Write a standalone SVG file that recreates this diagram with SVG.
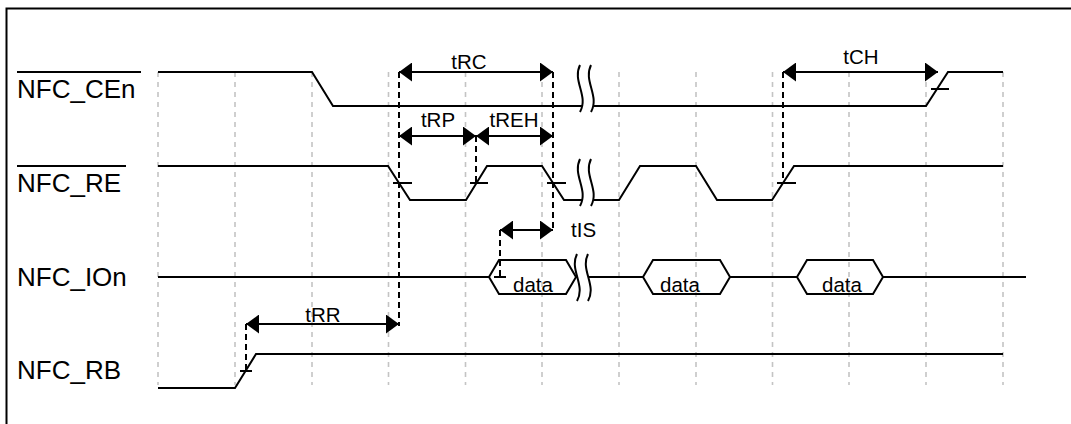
<svg xmlns="http://www.w3.org/2000/svg" width="1071" height="424" viewBox="0 0 1071 424">
<style>
.sig{fill:none;stroke:#000;stroke-width:2;stroke-linejoin:miter}
.grid{stroke:#c4c4c4;stroke-width:1.6;stroke-dasharray:5,5}
.ref{stroke:#000;stroke-width:2;stroke-dasharray:6,4;fill:none}
.arr{stroke:#000;stroke-width:2;fill:none;marker-start:url(#ah);marker-end:url(#ah)}
.tick{stroke:#000;stroke-width:2}
.lbl{font-family:"Liberation Sans",Arial,sans-serif;font-size:26px;fill:#000}
.ann{font-family:"Liberation Sans",Arial,sans-serif;font-size:20.5px;fill:#000}
.brkline{fill:none;stroke:#000;stroke-width:2}
</style>
<defs>
<marker id="ah" viewBox="0 0 13 19" refX="13" refY="9.5" markerWidth="13" markerHeight="19" markerUnits="userSpaceOnUse" orient="auto-start-reverse">
<path d="M0,0 L13,9.5 L0,19 z" fill="#000"/>
</marker>
<g id="brk">
<path d="M580,0 C572,16 589,31 580,47 L591,47 C600,31 583,16 591,0 Z" fill="#fff" stroke="none"/>
<path class="brkline" d="M580,0 C572,16 589,31 580,47"/>
<path class="brkline" d="M591,0 C583,16 600,31 591,47"/>
</g>
</defs>
<rect x="0" y="0" width="1071" height="424" fill="#fff"/>
<rect id="frame" x="6.5" y="8.5" width="1100" height="440" fill="none" stroke="#000" stroke-width="2"/>

<g id="grid">
<line class="grid" x1="158" y1="72" x2="158" y2="385"/>
<line class="grid" x1="235" y1="72" x2="235" y2="385"/>
<line class="grid" x1="312" y1="72" x2="312" y2="385"/>
<line class="grid" x1="388.5" y1="72" x2="388.5" y2="385"/>
<line class="grid" x1="465.5" y1="72" x2="465.5" y2="385"/>
<line class="grid" x1="542" y1="72" x2="542" y2="385"/>
<line class="grid" x1="619" y1="72" x2="619" y2="385"/>
<line class="grid" x1="696" y1="72" x2="696" y2="385"/>
<line class="grid" x1="772.5" y1="72" x2="772.5" y2="385"/>
<line class="grid" x1="849" y1="72" x2="849" y2="385"/>
<line class="grid" x1="926" y1="72" x2="926" y2="385"/>
<line class="grid" x1="1003" y1="72" x2="1003" y2="385"/>
</g>

<g id="NFC_CEn">
<text class="lbl" x="17" y="98">NFC_CEn</text>
<line x1="17" y1="72" x2="141" y2="72" stroke="#000" stroke-width="2"/>
<polyline class="sig" points="158,72 312,72 333,106 926,106 948,72 1003,72"/>
<line class="tick" x1="931" y1="89" x2="949" y2="89"/>
<use href="#brk" x="0" y="65"/>
</g>

<g id="NFC_RE">
<text class="lbl" x="17" y="192">NFC_RE</text>
<line x1="17" y1="166" x2="126" y2="166" stroke="#000" stroke-width="2"/>
<polyline class="sig" points="158,166 388,166 410,200 466,200 487,166 542,166 564,200 619,200 640,166 696,166 717,200 772,200 794,166 1003,166"/>
<line class="tick" x1="393" y1="183" x2="412" y2="183"/>
<line class="tick" x1="470" y1="183" x2="488" y2="183"/>
<line class="tick" x1="547" y1="183" x2="566" y2="183"/>
<line class="tick" x1="777" y1="183" x2="796" y2="183"/>
<use href="#brk" x="0" y="159"/>
</g>

<g id="NFC_IOn">
<text class="lbl" x="17" y="286">NFC_IOn</text>
<line class="sig" x1="158" y1="277" x2="489" y2="277"/>
<polygon class="sig" points="489,277 499,260 566,260 576,277 566,294 499,294"/>
<line class="sig" x1="576" y1="277" x2="643" y2="277"/>
<polygon class="sig" points="643,277 653,260 720,260 730,277 720,294 653,294"/>
<line class="sig" x1="730" y1="277" x2="797" y2="277"/>
<polygon class="sig" points="797,277 807,260 873,260 883,277 873,294 807,294"/>
<line class="sig" x1="883" y1="277" x2="1026" y2="277"/>
<line class="tick" x1="494" y1="277" x2="506" y2="277"/>
<text class="ann" x="533" y="292" text-anchor="middle">data</text>
<text class="ann" x="680" y="292" text-anchor="middle">data</text>
<text class="ann" x="842" y="292" text-anchor="middle">data</text>
<use href="#brk" x="-3" y="254"/>
</g>

<g id="NFC_RB">
<text class="lbl" x="17" y="379">NFC_RB</text>
<polyline class="sig" points="158,388 235,388 256,354 1003,354"/>
<line class="tick" x1="240" y1="371" x2="252" y2="371"/>
</g>

<g id="connectors">
<line class="ref" x1="399" y1="72" x2="399" y2="326"/>
<line class="ref" x1="553" y1="72" x2="553" y2="230"/>
<line class="ref" x1="476" y1="136" x2="476" y2="183"/>
<line class="ref" x1="500" y1="230" x2="500" y2="277"/>
<line class="ref" x1="783" y1="72" x2="783" y2="183"/>
<line class="ref" x1="246" y1="324" x2="246" y2="371"/>
<line class="arr" x1="399" y1="72" x2="553" y2="72"/>
<line class="arr" x1="399" y1="136" x2="476" y2="136"/>
<line class="arr" x1="476" y1="136" x2="553" y2="136"/>
<line class="arr" x1="783" y1="72" x2="938" y2="72"/>
<line class="arr" x1="500" y1="230" x2="553" y2="230"/>
<line class="arr" x1="246" y1="324" x2="399" y2="324"/>
</g>

<g id="labels">
<text class="ann" x="469" y="69" text-anchor="middle">tRC</text>
<text class="ann" x="438" y="127" text-anchor="middle">tRP</text>
<text class="ann" x="514" y="127" text-anchor="middle">tREH</text>
<text class="ann" x="861" y="64" text-anchor="middle">tCH</text>
<text class="ann" x="571" y="237">tIS</text>
<text class="ann" x="323" y="322" text-anchor="middle">tRR</text>
</g>
</svg>
